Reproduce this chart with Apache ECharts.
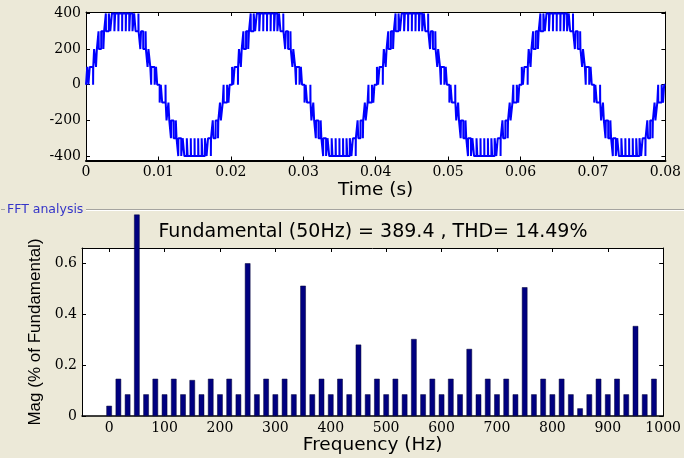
<!DOCTYPE html>
<html>
<head>
    <meta charset="utf-8">
    <title>Waveform and FFT</title>
    <script src="https://cdn.jsdelivr.net/npm/echarts@6/dist/echarts.min.js"></script>
    <style>
        html, body { margin: 0; padding: 0; background: #ECE9D8; }
        #main { width: 684px; height: 458px; }
    </style>
</head>
<body>
<div id="main"></div>
<script type="text/javascript">
// inverter output, switching edges: [time in ms, level in V]
var cycle1 = [
    [0,0],[0.17,100],[0.33,0],[0.52,100],[0.98,0],[1.00,100],[1.12,200],[1.38,100],[1.50,200],[1.73,300],[1.77,200],[2.10,300],[2.40,200],[2.50,300],[2.74,400],[2.76,300],[3.15,400],[3.35,300],[3.58,400],[3.92,300],[4.03,400],[4.47,300],[4.50,400],[4.99,300],[5.01,400],[5.49,300],[5.53,400],[5.97,300],[6.08,400],[6.42,300],[6.65,400],[6.85,300],[7.24,400],[7.26,300],[7.50,200],[7.60,300],[7.90,200],[8.23,300],[8.27,200],[8.50,100],[8.62,200],[8.88,100],[9.00,0],[9.02,100],[9.48,0],[9.67,100],[9.83,0],
    [10.17,-100],[10.33,0],[10.52,-100],[10.98,0],[11.00,-100],[11.12,-200],[11.38,-100],[11.50,-200],[11.73,-300],[11.77,-200],[12.10,-300],[12.40,-200],[12.50,-300],[12.74,-400],[12.76,-300],[13.15,-400],[13.35,-300],[13.58,-400],[13.92,-300],[14.03,-400],[14.47,-300],[14.50,-400],[14.99,-300],[15.01,-400],[15.49,-300],[15.53,-400],[15.97,-300],[16.08,-400],[16.42,-300],[16.65,-400],[16.85,-300],[17.24,-400],[17.26,-300],[17.50,-200],[17.60,-300],[17.90,-200],[18.23,-300],[18.27,-200],[18.50,-100],[18.62,-200],[18.88,-100],[19.00,0],[19.02,-100],[19.48,0],[19.67,-100],[19.83,0]
];
var cycle2 = [
    [20.17,100],[20.33,0],[20.52,100],[20.98,0],[21.00,100],[21.12,200],[21.38,100],[21.50,200],[21.73,300],[21.77,200],[22.10,300],[22.40,200],[22.50,300],[22.74,400],[22.76,300],[23.15,400],[23.35,300],[23.58,400],[23.92,300],[24.03,400],[24.47,300],[24.50,400],[24.99,300],[25.01,400],[25.49,300],[25.53,400],[25.97,300],[26.08,400],[26.42,300],[26.65,400],[26.85,300],[27.24,400],[27.26,300],[27.50,200],[27.60,300],[27.90,200],[28.23,300],[28.27,200],[28.50,100],[28.62,200],[28.88,100],[29.00,0],[29.02,100],[29.48,0],[29.67,100],[29.83,0],
    [30.17,-100],[30.33,0],[30.52,-100],[30.98,0],[31.00,-100],[31.12,-200],[31.38,-100],[31.50,-200],[31.73,-300],[31.77,-200],[32.10,-300],[32.40,-200],[32.50,-300],[32.74,-400],[32.76,-300],[33.15,-400],[33.35,-300],[33.58,-400],[33.92,-300],[34.03,-400],[34.47,-300],[34.50,-400],[34.99,-300],[35.01,-400],[35.49,-300],[35.53,-400],[35.97,-300],[36.08,-400],[36.42,-300],[36.65,-400],[36.85,-300],[37.24,-400],[37.26,-300],[37.50,-200],[37.60,-300],[37.90,-200],[38.23,-300],[38.27,-200],[38.50,-100],[38.62,-200],[38.88,-100],[39.00,0],[39.02,-100],[39.48,0],[39.67,-100],[39.83,0]
];
var cycle3 = [
    [40.17,100],[40.33,0],[40.52,100],[40.98,0],[41.00,100],[41.12,200],[41.38,100],[41.50,200],[41.73,300],[41.77,200],[42.10,300],[42.40,200],[42.50,300],[42.74,400],[42.76,300],[43.15,400],[43.35,300],[43.58,400],[43.92,300],[44.03,400],[44.47,300],[44.50,400],[44.99,300],[45.01,400],[45.49,300],[45.53,400],[45.97,300],[46.08,400],[46.42,300],[46.65,400],[46.85,300],[47.24,400],[47.26,300],[47.50,200],[47.60,300],[47.90,200],[48.23,300],[48.27,200],[48.50,100],[48.62,200],[48.88,100],[49.00,0],[49.02,100],[49.48,0],[49.67,100],[49.83,0],
    [50.17,-100],[50.33,0],[50.52,-100],[50.98,0],[51.00,-100],[51.12,-200],[51.38,-100],[51.50,-200],[51.73,-300],[51.77,-200],[52.10,-300],[52.40,-200],[52.50,-300],[52.74,-400],[52.76,-300],[53.15,-400],[53.35,-300],[53.58,-400],[53.92,-300],[54.03,-400],[54.47,-300],[54.50,-400],[54.99,-300],[55.01,-400],[55.49,-300],[55.53,-400],[55.97,-300],[56.08,-400],[56.42,-300],[56.65,-400],[56.85,-300],[57.24,-400],[57.26,-300],[57.50,-200],[57.60,-300],[57.90,-200],[58.23,-300],[58.27,-200],[58.50,-100],[58.62,-200],[58.88,-100],[59.00,0],[59.02,-100],[59.48,0],[59.67,-100],[59.83,0]
];
var cycle4 = [
    [60.17,100],[60.33,0],[60.52,100],[60.98,0],[61.00,100],[61.12,200],[61.38,100],[61.50,200],[61.73,300],[61.77,200],[62.10,300],[62.40,200],[62.50,300],[62.74,400],[62.76,300],[63.15,400],[63.35,300],[63.58,400],[63.92,300],[64.03,400],[64.47,300],[64.50,400],[64.99,300],[65.01,400],[65.49,300],[65.53,400],[65.97,300],[66.08,400],[66.42,300],[66.65,400],[66.85,300],[67.24,400],[67.26,300],[67.50,200],[67.60,300],[67.90,200],[68.23,300],[68.27,200],[68.50,100],[68.62,200],[68.88,100],[69.00,0],[69.02,100],[69.48,0],[69.67,100],[69.83,0],
    [70.17,-100],[70.33,0],[70.52,-100],[70.98,0],[71.00,-100],[71.12,-200],[71.38,-100],[71.50,-200],[71.73,-300],[71.77,-200],[72.10,-300],[72.40,-200],[72.50,-300],[72.74,-400],[72.76,-300],[73.15,-400],[73.35,-300],[73.58,-400],[73.92,-300],[74.03,-400],[74.47,-300],[74.50,-400],[74.99,-300],[75.01,-400],[75.49,-300],[75.53,-400],[75.97,-300],[76.08,-400],[76.42,-300],[76.65,-400],[76.85,-300],[77.24,-400],[77.26,-300],[77.50,-200],[77.60,-300],[77.90,-200],[78.23,-300],[78.27,-200],[78.50,-100],[78.62,-200],[78.88,-100],[79.00,0],[79.02,-100],[79.48,0],[79.67,-100],[79.83,0],
    [80,0]
];

// FFT bars, 16.67 Hz apart (the 50 Hz bar is cut off by the panel)
var freqs = [0, 16.67, 33.33, 50, 66.67, 83.33, 100, 116.67, 133.33, 150,
    166.67, 183.33, 200, 216.67, 233.33, 250, 266.67, 283.33, 300, 316.67,
    333.33, 350, 366.67, 383.33, 400, 416.67, 433.33, 450, 466.67, 483.33,
    500, 516.67, 533.33, 550, 566.67, 583.33, 600, 616.67, 633.33, 650,
    666.67, 683.33, 700, 716.67, 733.33, 750, 766.67, 783.33, 800, 816.67,
    833.33, 850, 866.67, 883.33, 900, 916.67, 933.33, 950, 966.67, 983.33];
var mags = [0.04, 0.146, 0.085, 0.79, 0.085, 0.146, 0.085, 0.146, 0.085, 0.141,
    0.085, 0.146, 0.085, 0.146, 0.085, 0.599, 0.085, 0.146, 0.085, 0.146,
    0.085, 0.511, 0.085, 0.146, 0.085, 0.146, 0.085, 0.28, 0.085, 0.146,
    0.085, 0.146, 0.085, 0.302, 0.085, 0.146, 0.085, 0.146, 0.085, 0.263,
    0.085, 0.146, 0.085, 0.146, 0.085, 0.505, 0.085, 0.146, 0.085, 0.146,
    0.085, 0.03, 0.085, 0.146, 0.085, 0.146, 0.085, 0.353, 0.085, 0.146];

// tick values
var timeTicks = [0, 0.01, 0.02, 0.03, 0.04, 0.05, 0.06, 0.07, 0.08];
var voltTicks = [-400, -200, 0, 200, 400];
var freqTicks = [0, 100, 200, 300, 400, 500, 600, 700, 800, 900, 1000];
var magTicks = [0, 0.2, 0.4, 0.6];

var wave = [];
[cycle1, cycle2, cycle3, cycle4].forEach(function (c) {
    c.forEach(function (p) { wave.push([p[0] / 1000, p[1]]); });
});
var bars = [];
for (var i = 0; i < freqs.length; i++) {
    bars.push([freqs[i], mags[i]]);
}

function axis(grid, pos, min, max, ticks, labels, lineW) {
    return {
        type: 'value', gridIndex: grid, position: pos, min: min, max: max,
        axisLine: { show: true, onZero: false, lineStyle: { color: '#000', width: lineW } },
        axisTick: { show: true, inside: true, length: 4, customValues: ticks,
                    lineStyle: { color: '#000', width: 1 } },
        axisLabel: { show: labels, customValues: ticks, margin: 5,
                     fontFamily: 'DejaVu Serif', fontSize: 14, color: '#000',
                     formatter: function (v) { return String(v); } },
        splitLine: { show: false }
    };
}

var myChart = echarts.init(document.getElementById('main'));

var xTime = axis(0, 'bottom', 0, 0.08, timeTicks, true, 2);
xTime.name = 'Time (s)';
xTime.nameLocation = 'middle';
xTime.nameGap = 18;
xTime.nameTextStyle = { fontFamily: 'DejaVu Sans', fontSize: 18.5, color: '#000' };

var xFreq = axis(1, 'bottom', -49, 1000, freqTicks, true, 1.5);
xFreq.name = 'Frequency (Hz)';
xFreq.nameLocation = 'middle';
xFreq.nameGap = 15;
xFreq.nameTextStyle = { fontFamily: 'DejaVu Sans', fontSize: 18.5, color: '#000' };

var yMag = axis(1, 'left', 0, 0.659, magTicks, true, 1);
yMag.name = 'Mag (% of Fundamental)';
yMag.nameLocation = 'middle';
yMag.nameGap = 37;
yMag.nameTextStyle = { fontFamily: 'Liberation Sans', fontSize: 17, color: '#000' };

var option = {
    backgroundColor: '#ECE9D8',
    animation: false,
    grid: [
        { left: 86, right: 17, top: 12, height: 148.5, show: true, backgroundColor: '#fff', borderWidth: 0 },
        { left: 82, right: 16, top: 248, height: 168, show: true, backgroundColor: '#fff', borderWidth: 0 }
    ],
    xAxis: [
        xTime,
        axis(0, 'top', 0, 0.08, timeTicks, false, 1),
        xFreq,
        axis(1, 'top', -49, 1000, freqTicks, false, 1)
    ],
    yAxis: [
        axis(0, 'left', -425, 408, voltTicks, true, 1),
        axis(0, 'right', -425, 408, voltTicks, false, 1),
        yMag,
        axis(1, 'right', 0, 0.659, magTicks, false, 1)
    ],
    graphic: [
        { type: 'line', shape: { x1: 1, y1: 209.5, x2: 5, y2: 209.5 }, style: { stroke: '#a5a4a0', lineWidth: 1 } },
        { type: 'line', shape: { x1: 86, y1: 209.5, x2: 684, y2: 209.5 }, style: { stroke: '#a5a4a0', lineWidth: 1 } },
        { type: 'line', shape: { x1: 86, y1: 210.5, x2: 684, y2: 210.5 }, style: { stroke: '#ffffff', lineWidth: 1 } },
        { type: 'text', x: 7, y: 210,
          style: { text: 'FFT analysis', font: '12.5px "DejaVu Sans"', fill: '#3535c8',
                   textAlign: 'left', textVerticalAlign: 'middle', align: 'left', verticalAlign: 'middle' } },
        { type: 'text', x: 373, y: 232,
          style: { text: 'Fundamental (50Hz) = 389.4 , THD= 14.49%', font: '19px "DejaVu Sans"', fill: '#000',
                   textAlign: 'center', textVerticalAlign: 'middle', align: 'center', verticalAlign: 'middle' } }
    ],
    series: [
        {
            type: 'line', xAxisIndex: 0, yAxisIndex: 0,
            data: wave, step: 'end', showSymbol: false, sampling: 'none',
            lineStyle: { color: '#0000ff', width: 2 }
        },
        {
            type: 'bar', xAxisIndex: 2, yAxisIndex: 2,
            data: bars, barWidth: 5.5, clip: false,
            itemStyle: { color: '#000080', borderColor: '#000033', borderWidth: 0.5 }
        }
    ]
};

myChart.setOption(option);
</script>
</body>
</html>
